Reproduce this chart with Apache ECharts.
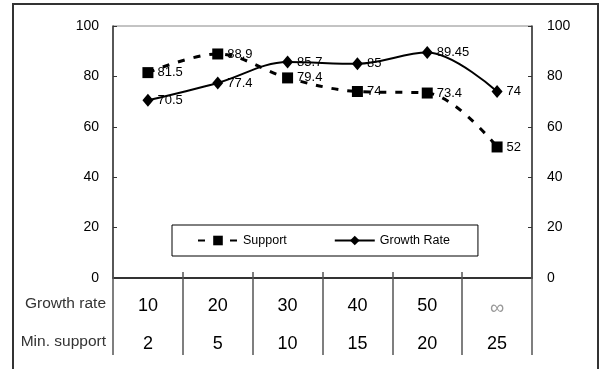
<!DOCTYPE html>
<html>
<head>
<meta charset="utf-8">
<script src="https://cdn.jsdelivr.net/npm/echarts@6/dist/echarts.min.js"></script>
<style>
  html, body { margin: 0; padding: 0; background: #fff; }
  #chart { width: 603px; height: 369px; }
</style>
</head>
<body>
<div id="chart"></div>
<script>
// Table rows under the plot: one column per run
const growthRates = ['10', '20', '30', '40', '50', '∞'];
const minSupports = ['2', '5', '10', '15', '20', '25'];

// Series values (%)
const supportValues = [81.5, 88.9, 79.4, 74, 73.4, 52];
const growthRateValues = [70.5, 77.4, 85.7, 85, 89.45, 74];

// Value axis ticks
const yMin = 0, yMax = 100, yStep = 20;

const FONT = '"Liberation Sans", Arial, sans-serif';

const chart = echarts.init(document.getElementById('chart'), null, { renderer: 'canvas' });

const labelStyle = {
  show: true,
  position: 'right',
  distance: 4,
  color: '#000',
  fontSize: 13,
  fontFamily: FONT,
  formatter: p => String(p.value)
};

chart.setOption({
  animation: false,
  backgroundColor: '#fff',
  textStyle: { fontFamily: FONT },
  grid: {
    left: 113, right: 71, top: 26, bottom: 91,
    show: true, borderColor: '#888', borderWidth: 1, backgroundColor: 'transparent'
  },
  legend: {
    left: 172, top: 225,
    padding: [9, 28, 9, 25],
    itemGap: 47,
    itemWidth: 40, itemHeight: 12,
    borderColor: '#000', borderWidth: 1,
    textStyle: { fontSize: 12.5, color: '#000', fontFamily: FONT },
    data: ['Support', 'Growth Rate']
  },
  xAxis: [
    {
      type: 'category',
      data: growthRates,
      position: 'bottom',
      boundaryGap: true,
      axisLine: { show: true, lineStyle: { color: '#333', width: 2 } },
      axisTick: { show: true, inside: true, length: 6, interval: 0, lineStyle: { color: '#555', width: 1.5 } },
      axisLabel: {
        interval: 0, margin: 19, color: '#000', fontSize: 18, fontFamily: FONT,
        formatter: v => v === '∞' ? '{inf|∞}' : v,
        rich: { inf: { fontSize: 20, color: '#999', fontFamily: FONT, padding: [1, 0, 0, 0] } }
      },
      splitLine: { show: false }
    },
    {
      type: 'category',
      data: minSupports,
      position: 'bottom',
      boundaryGap: true,
      axisLine: { show: false },
      axisTick: { show: true, inside: false, length: 77, interval: 0, lineStyle: { color: '#555', width: 1.5 } },
      axisLabel: { interval: 0, margin: 57, color: '#000', fontSize: 18, fontFamily: FONT },
      splitLine: { show: false }
    }
  ],
  yAxis: [
    {
      type: 'value', min: yMin, max: yMax, interval: yStep, position: 'left',
      axisLine: { show: true, lineStyle: { color: '#333', width: 1.5 } },
      axisTick: { show: true, inside: true, length: 4, lineStyle: { color: '#333' } },
      axisLabel: { margin: 14, color: '#000', fontSize: 14, fontFamily: FONT },
      splitLine: { show: false }
    },
    {
      type: 'value', min: yMin, max: yMax, interval: yStep, position: 'right',
      axisLine: { show: true, lineStyle: { color: '#333', width: 1.5 } },
      axisTick: { show: true, inside: true, length: 4, lineStyle: { color: '#333' } },
      axisLabel: { margin: 15, color: '#000', fontSize: 14, fontFamily: FONT },
      splitLine: { show: false }
    }
  ],
  series: [
    {
      name: 'Support',
      type: 'line',
      data: supportValues,
      smooth: 0.35,
      symbol: 'rect',
      symbolSize: 11,
      itemStyle: { color: '#000' },
      lineStyle: { color: '#000', width: 3, type: [7, 9] },
      label: labelStyle
    },
    {
      name: 'Growth Rate',
      type: 'line',
      data: growthRateValues,
      smooth: 0.35,
      symbol: 'diamond',
      symbolSize: [11, 13],
      itemStyle: { color: '#000' },
      lineStyle: { color: '#000', width: 2 },
      label: labelStyle
    }
  ],
  graphic: [
    {
      type: 'rect', silent: true,
      shape: { x: 13, y: 4, width: 585, height: 380 },
      style: { fill: 'none', stroke: '#333', lineWidth: 2 }
    },
    {
      type: 'text', silent: true, x: 106, y: 304,
      style: { text: 'Growth rate', align: 'right', verticalAlign: 'middle', fill: '#333', font: '15.5px ' + FONT }
    },
    {
      type: 'text', silent: true, x: 106, y: 342,
      style: { text: 'Min. support', align: 'right', verticalAlign: 'middle', fill: '#333', font: '15.5px ' + FONT }
    }
  ]
});
</script>
</body>
</html>
